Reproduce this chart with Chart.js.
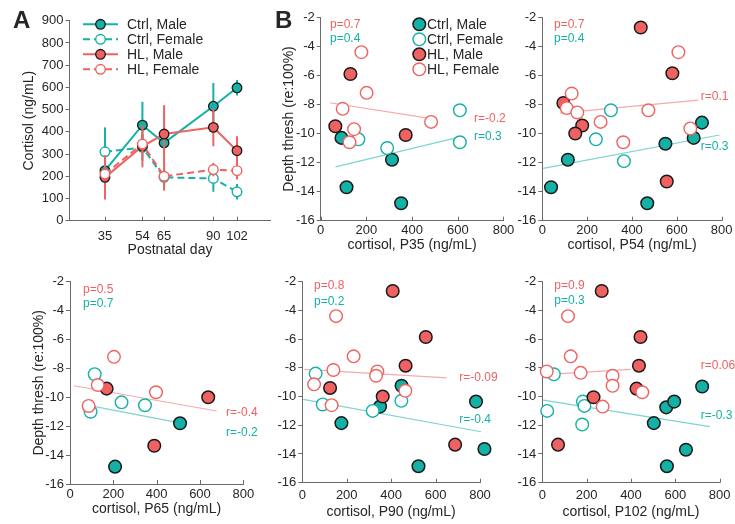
<!DOCTYPE html>
<html>
<head>
<meta charset="utf-8">
<script src="https://cdn.jsdelivr.net/npm/chart.js@4.4.0/dist/chart.umd.min.js"></script>
<style>
html, body { margin: 0; padding: 0; background: #fff; }
#wrap { position: relative; width: 735px; height: 524px; overflow: hidden; }
#wrap canvas { position: absolute; left: 0; top: 0; }
</style>
</head>
<body>
<div id="wrap">
  <canvas id="cA" width="735" height="524"></canvas>
  <canvas id="c35" width="735" height="524"></canvas>
  <canvas id="c54" width="735" height="524"></canvas>
  <canvas id="c65" width="735" height="524"></canvas>
  <canvas id="c90" width="735" height="524"></canvas>
  <canvas id="c102" width="735" height="524"></canvas>
</div>
<script>
// ---- panel A: cortisol over postnatal day (mean, error) ----
const days = [35, 54, 65, 90, 102];
const cortTicksA = [0, 100, 200, 300, 400, 500, 600, 700, 800, 900];
const ctrlMaleCort = [225, 430, 350, 515, 598];
const ctrlMaleErr = [20, 105, 30, 105, 35];
const ctrlFemaleCort = [310, 330, 195, 190, 130];
const ctrlFemaleErr = [110, 60, 40, 60, 35];
const hlMaleCort = [195, 335, 390, 420, 315];
const hlMaleErr = [100, 95, 130, 85, 65];
const hlFemaleCort = [210, 345, 200, 230, 225];
const hlFemaleErr = [30, 40, 65, 30, 40];

// ---- panel B: [cortisol ng/mL, depth thresh] per animal ----
const cortTicks = [0, 200, 400, 600, 800];
const threshTicks = [-16, -14, -12, -10, -8, -6, -4, -2];

const p35CtrlMale = [[91, -10.3], [312, -11.8], [113, -13.7], [352, -14.8]];
const p35CtrlFemale = [[165, -10.4], [291, -11.0], [609, -8.4], [609, -10.6]];
const p35HlMale = [[130, -5.9], [64, -9.5], [372, -10.1]];
const p35HlFemale = [[178, -4.4], [201, -7.2], [96, -8.3], [146, -9.7], [126, -10.6], [483, -9.2]];
const p35HlFit = [[40, -7.88], [504, -9.02]];
const p35CtrlFit = [[65, -12.3], [606, -10.25]];
const p35Stats = ['p=0.7', 'p=0.4', 'r=-0.2', 'r=0.3'];

const p54CtrlMale = [[114, -11.8], [549, -10.7], [712, -9.25], [675, -10.3], [39, -13.7], [468, -14.8]];
const p54CtrlFemale = [[306, -8.4], [239, -10.4], [364, -11.9]];
const p54HlMale = [[439, -2.7], [580, -5.85], [94, -7.9], [178, -9.45], [147, -10.0], [555, -13.3]];
const p54HlFemale = [[607, -4.4], [131, -7.25], [109, -8.25], [156, -8.55], [473, -8.4], [260, -9.2], [361, -10.6], [660, -9.65]];
const p54HlFit = [[79, -8.6], [696, -7.7]];
const p54CtrlFit = [[4, -12.4], [790, -10.1]];
const p54Stats = ['p=0.7', 'p=0.4', 'r=0.1', 'r=0.3'];

const p65CtrlMale = [[508, -11.8], [208, -14.8]];
const p65CtrlFemale = [[114, -8.4], [238, -10.35], [346, -10.55], [95, -11.0]];
const p65HlMale = [[169, -9.4], [638, -10.0], [389, -13.35]];
const p65HlFemale = [[203, -7.2], [128, -9.15], [397, -9.65], [86, -10.6]];
const p65HlFit = [[18, -9.2], [677, -10.95]];
const p65CtrlFit = [[115, -10.65], [500, -11.75]];
const p65Stats = ['p=0.5', 'p=0.7', 'r=-0.4', 'r=-0.2'];

const p90CtrlMale = [[447, -9.25], [350, -10.7], [176, -11.85], [782, -10.35], [820, -13.65], [523, -14.85]];
const p90CtrlFemale = [[60, -8.4], [446, -10.3], [92, -10.55], [317, -11.0]];
const p90HlMale = [[407, -2.65], [556, -5.85], [465, -7.85], [125, -9.4], [362, -10.0], [688, -13.35]];
const p90HlFemale = [[152, -4.4], [231, -7.2], [140, -8.15], [338, -8.25], [332, -8.55], [53, -9.15], [464, -9.6], [132, -10.6]];
const p90HlFit = [[10, -8.1], [650, -8.7]];
const p90CtrlFit = [[4, -10.2], [805, -12.45]];
const p90Stats = ['p=0.8', 'p=0.2', 'r=-0.09', 'r=-0.4'];

const p102CtrlMale = [[559, -10.75], [503, -11.85], [595, -10.35], [721, -9.3], [648, -13.7], [562, -14.85]];
const p102CtrlFemale = [[52, -8.45], [183, -10.35], [190, -10.65], [22, -11.0], [180, -11.95]];
const p102HlMale = [[268, -2.65], [443, -5.85], [436, -7.85], [425, -9.45], [231, -10.05], [71, -13.35]];
const p102HlFemale = [[116, -4.4], [128, -7.2], [20, -8.25], [173, -8.35], [317, -8.55], [317, -9.25], [451, -9.7], [272, -10.7]];
const p102HlFit = [[27, -8.45], [399, -8.1]];
const p102CtrlFit = [[4, -10.25], [756, -12.1]];
const p102Stats = ['p=0.9', 'p=0.3', 'r=0.06', 'r=-0.3'];

const groupNames = ['Ctrl, Male', 'Ctrl, Female', 'HL, Male', 'HL, Female'];

// styles
const FONT = '"Liberation Sans", Arial, Helvetica, sans-serif';
const TEAL = '#14b1a6';
const RED = '#f06262';
const TEAL_FIT = 'rgba(20,177,166,0.55)';
const RED_FIT = 'rgba(240,98,98,0.55)';
const AXIS = '#6a6a6a';
const INK = '#262626';
const EDGE = '#1a1a1a';

const pts = arr => arr.map(p => ({ x: p[0], y: p[1] }));
const fixTicks = vals => function (s) { s.ticks = vals.map(v => ({ value: v })); };

// error bars under each series of panel A
const errorBars = {
    id: 'errorBars',
    beforeDatasetDraw(chart, args) {
        const ds = chart.data.datasets[args.index];
        if (!ds.errors) return;
        const ctx = chart.ctx, ys = chart.scales.y;
        ctx.save();
        ctx.strokeStyle = ds.borderColor;
        ctx.lineWidth = 2;
        ctx.setLineDash([]);
        args.meta.data.forEach((el, i) => {
            const v = ds.data[i].y, e = ds.errors[i];
            ctx.beginPath();
            ctx.moveTo(el.x, ys.getPixelForValue(v - e));
            ctx.lineTo(el.x, ys.getPixelForValue(v + e));
            ctx.stroke();
        });
        ctx.restore();
    }
};

// matlab-like inward ticks on the x axis
const inTicks = {
    id: 'inTicks',
    afterDraw(chart) {
        const s = chart.scales.x, ctx = chart.ctx;
        ctx.save();
        ctx.strokeStyle = AXIS;
        ctx.lineWidth = 1;
        s.ticks.forEach(t => {
            const px = Math.round(s.getPixelForValue(t.value)) + 0.5;
            ctx.beginPath();
            ctx.moveTo(px, s.top);
            ctx.lineTo(px, s.top - 4);
            ctx.stroke();
        });
        ctx.restore();
    }
};

// legend box drawn from the dataset styles
const boxLegend = {
    id: 'boxLegend',
    afterDraw(chart, args, opts) {
        if (!opts.show) return;
        const ctx = chart.ctx;
        ctx.save();
        chart.data.datasets.filter(d => !d.fit).forEach((ds, i) => {
            const y = opts.y0 + i * opts.dy;
            if (opts.lineFrom !== undefined) {
                ctx.strokeStyle = ds.borderColor;
                ctx.lineWidth = 2;
                ctx.setLineDash(ds.borderDash || []);
                ctx.beginPath();
                ctx.moveTo(opts.lineFrom, y);
                ctx.lineTo(opts.lineTo, y);
                ctx.stroke();
                ctx.setLineDash([]);
            }
            ctx.beginPath();
            ctx.arc(opts.markerX, y, ds.pointRadius, 0, Math.PI * 2);
            ctx.fillStyle = ds.pointBackgroundColor;
            ctx.fill();
            ctx.lineWidth = ds.pointBorderWidth;
            ctx.strokeStyle = ds.pointBorderColor;
            ctx.stroke();
            ctx.fillStyle = INK;
            ctx.font = '14px ' + FONT;
            ctx.textBaseline = 'middle';
            ctx.fillText(ds.label, opts.textX, y + 0.5);
        });
        ctx.restore();
    }
};

// free text: stats and panel letters
const notes = {
    id: 'notes',
    afterDraw(chart, args, opts) {
        const ctx = chart.ctx;
        ctx.save();
        (opts.items || []).forEach(n => {
            ctx.font = n.font || ('12px ' + FONT);
            ctx.fillStyle = n.color || INK;
            ctx.textBaseline = n.base || 'middle';
            ctx.fillText(n.text, n.x, n.y);
        });
        ctx.restore();
    }
};

function tickFont(pad) {
    return { color: INK, font: { family: FONT, size: 13 }, padding: pad, maxRotation: 0, autoSkip: false };
}

function axisX(cfg, extra) {
    return Object.assign({
        type: 'linear',
        ticks: tickFont(cfg.xPad),
        grid: { display: false, drawTicks: false },
        border: { display: true, color: AXIS, width: 1 },
        title: { display: true, text: cfg.xTitle, color: INK, font: { family: FONT, size: 14 }, padding: { top: 4, bottom: 4 } },
        afterFit(s) { s.height = cfg.xH; }
    }, extra);
}

function axisY(cfg, extra) {
    return Object.assign({
        type: 'linear',
        ticks: tickFont(2),
        grid: { drawOnChartArea: false, tickLength: 4, color: AXIS },
        border: { display: true, color: AXIS, width: 1 },
        title: { display: !!cfg.yTitle, text: cfg.yTitle || '', color: INK, font: { family: FONT, size: 14 }, padding: { top: 4, bottom: 4 } },
        afterFit(s) { s.width = cfg.yW; }
    }, extra);
}

function baseOptions(cfg, scales, plugins) {
    return {
        responsive: false,
        animation: false,
        events: [],
        layout: { padding: { left: cfg.l - cfg.yW, right: 735 - cfg.r, top: cfg.t, bottom: 524 - cfg.b - cfg.xH } },
        scales: scales,
        plugins: Object.assign({ legend: { display: false }, tooltip: { enabled: false } }, plugins)
    };
}

// ---- panel A ----
function seriesA(label, vals, errs, color, filled, dashed, order) {
    return {
        label: label,
        data: days.map((d, i) => ({ x: d, y: vals[i] })),
        errors: errs,
        borderColor: color,
        borderWidth: 2,
        borderDash: dashed ? [7, 4] : [],
        pointRadius: 4.8,
        pointBackgroundColor: filled ? color : '#fff',
        pointBorderColor: filled ? EDGE : color,
        pointBorderWidth: filled ? 1.3 : 1.4,
        tension: 0,
        clip: false,
        order: order
    };
}

const cfgA = { l: 69.5, r: 270.5, t: 20.7, b: 220.7, yW: 52.6, xH: 41.7, xPad: 7.5, xTitle: 'Postnatal day', yTitle: 'Cortisol (ng/mL)' };
new Chart(document.getElementById('cA'), {
    type: 'line',
    data: {
        datasets: [
            seriesA(groupNames[0], ctrlMaleCort, ctrlMaleErr, TEAL, true, false, 4),
            seriesA(groupNames[1], ctrlFemaleCort, ctrlFemaleErr, TEAL, false, true, 3),
            seriesA(groupNames[2], hlMaleCort, hlMaleErr, RED, true, false, 2),
            seriesA(groupNames[3], hlFemaleCort, hlFemaleErr, RED, false, true, 1)
        ]
    },
    options: baseOptions(cfgA, {
        x: axisX(cfgA, { min: 17, max: 119, afterBuildTicks: fixTicks(days) }),
        y: axisY(cfgA, { min: 0, max: 900, afterBuildTicks: fixTicks(cortTicksA) })
    }, {
        boxLegend: { show: true, y0: 24.3, dy: 15, lineFrom: 83, lineTo: 118, markerX: 100.5, textX: 127 },
        notes: { items: [{ text: 'A', x: 13, y: 28, base: 'alphabetic', font: 'bold 24px ' + FONT }] }
    }),
    plugins: [errorBars, inTicks, boxLegend, notes]
});

// ---- panel B scatter plots ----
function scatterSets(cm, cf, hm, hf, hFit, cFit) {
    const base = { type: 'scatter', showLine: false, clip: false, pointRadius: 6.3 };
    return [
        Object.assign({}, base, { label: groupNames[0], data: pts(cm), pointBackgroundColor: TEAL, pointBorderColor: EDGE, pointBorderWidth: 1.5, order: 4 }),
        Object.assign({}, base, { label: groupNames[1], data: pts(cf), pointBackgroundColor: '#fff', pointBorderColor: TEAL, pointBorderWidth: 1.4, order: 3 }),
        Object.assign({}, base, { label: groupNames[2], data: pts(hm), pointBackgroundColor: RED, pointBorderColor: EDGE, pointBorderWidth: 1.5, order: 2 }),
        Object.assign({}, base, { label: groupNames[3], data: pts(hf), pointBackgroundColor: '#fff', pointBorderColor: RED, pointBorderWidth: 1.4, order: 1 }),
        { type: 'line', fit: true, data: pts(hFit), borderColor: RED_FIT, borderWidth: 1.2, pointRadius: 0, clip: false, order: 5 },
        { type: 'line', fit: true, data: pts(cFit), borderColor: TEAL_FIT, borderWidth: 1.2, pointRadius: 0, clip: false, order: 6 }
    ];
}

function scatterPanel(id, cfg, sets, stats, legend, letter) {
    const items = [
        { text: stats[0], x: cfg.px, y: cfg.py0, color: RED },
        { text: stats[1], x: cfg.px, y: cfg.py1, color: TEAL },
        { text: stats[2], x: cfg.rx, y: cfg.ry0, color: RED },
        { text: stats[3], x: cfg.rx, y: cfg.ry1, color: TEAL }
    ];
    if (letter) items.push({ text: letter, x: 275, y: 28, base: 'alphabetic', font: 'bold 24px ' + FONT });
    new Chart(document.getElementById(id), {
        type: 'scatter',
        data: { datasets: sets },
        options: baseOptions(cfg, {
            x: axisX(cfg, { min: 0, max: 800, afterBuildTicks: fixTicks(cortTicks) }),
            y: axisY(cfg, { min: -16, max: -2, afterBuildTicks: fixTicks(threshTicks) })
        }, {
            boxLegend: legend || { show: false },
            notes: { items: items }
        }),
        plugins: [inTicks, boxLegend, notes]
    });
}

const yLab = 'Depth thresh (re:100%)';

// x title sits a little lower than tick labels so the two text rows do not touch
scatterPanel('c35',
    { l: 320.7, r: 503.5, t: 17.3, b: 220.7, yW: 44.1, xH: 36.7, xPad: 2, xTitle: 'cortisol, P35 (ng/mL)', yTitle: yLab,
      px: 330, py0: 24.5, py1: 38.5, rx: 474, ry0: 119, ry1: 137 },
    scatterSets(p35CtrlMale, p35CtrlFemale, p35HlMale, p35HlFemale, p35HlFit, p35CtrlFit), p35Stats,
    { show: true, y0: 24.3, dy: 15, markerX: 419.3, textX: 427 }, 'B');

scatterPanel('c54',
    { l: 542.3, r: 721.7, t: 17.3, b: 220.7, yW: 35, xH: 36.7, xPad: 2, xTitle: 'cortisol, P54 (ng/mL)',
      px: 554, py0: 24.5, py1: 38.5, rx: 700.7, ry0: 97, ry1: 147 },
    scatterSets(p54CtrlMale, p54CtrlFemale, p54HlMale, p54HlFemale, p54HlFit, p54CtrlFit), p54Stats);

scatterPanel('c65',
    { l: 70, r: 243.3, t: 281.7, b: 484, yW: 43.1, xH: 37.9, xPad: 3, xTitle: 'cortisol, P65 (ng/mL)', yTitle: yLab,
      px: 83, py0: 290, py1: 303.5, rx: 226, ry0: 412.7, ry1: 432.7 },
    scatterSets(p65CtrlMale, p65CtrlFemale, p65HlMale, p65HlFemale, p65HlFit, p65CtrlFit), p65Stats);

scatterPanel('c90',
    { l: 302.3, r: 480, t: 281.7, b: 482.7, yW: 35, xH: 41.4, xPad: 4.5, xTitle: 'cortisol, P90 (ng/mL)',
      px: 314, py0: 286, py1: 301.5, rx: 459.3, ry0: 377.3, ry1: 419.3 },
    scatterSets(p90CtrlMale, p90CtrlFemale, p90HlMale, p90HlFemale, p90HlFit, p90CtrlFit), p90Stats);

scatterPanel('c102',
    { l: 542.3, r: 721.7, t: 281.7, b: 482.7, yW: 35, xH: 41.4, xPad: 4.5, xTitle: 'cortisol, P102 (ng/mL)',
      px: 554.3, py0: 286, py1: 300.7, rx: 700.7, ry0: 366, ry1: 416 },
    scatterSets(p102CtrlMale, p102CtrlFemale, p102HlMale, p102HlFemale, p102HlFit, p102CtrlFit), p102Stats);
</script>
</body>
</html>
